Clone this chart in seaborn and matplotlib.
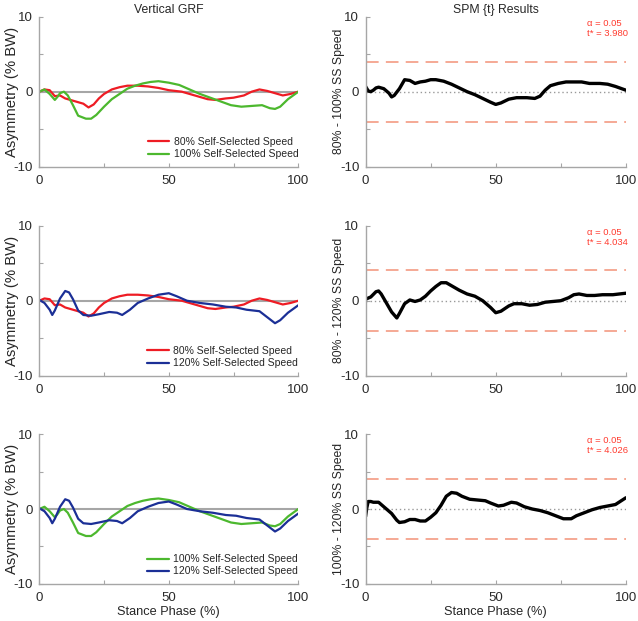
import numpy as np
import pandas as pd
import seaborn as sns
import matplotlib.pyplot as plt

# asymmetry curves (% BW)
x80 = [0, 2, 4, 6, 8, 10, 13, 15, 17, 19, 21, 23, 25, 28, 31, 34, 38, 42, 46, 50,
       55, 60, 65, 68, 72, 75, 79, 82, 85, 88, 91, 94, 97, 100]
y80 = [0.0, 0.3, 0.2, -0.6, -0.5, -0.9, -1.2, -1.4, -1.6, -2.1, -1.7, -0.9, -0.3, 0.3, 0.6, 0.8, 0.8, 0.7, 0.5, 0.2,
       0.0, -0.5, -1.0, -1.1, -0.9, -0.8, -0.5, 0.0, 0.3, 0.1, -0.2, -0.5, -0.3, 0.0]

x100 = [0, 2, 4, 6, 7, 8, 9.5, 11, 13, 15, 18, 20, 22, 25, 28, 31, 34, 37, 40, 43,
        46, 50, 54, 58, 62, 66, 70, 74, 78, 82, 86, 89, 91, 93, 96, 100]
y100 = [0.0, 0.3, -0.3, -1.1, -0.7, -0.2, 0.0, -0.5, -1.8, -3.2, -3.6, -3.6, -3.1, -2.0, -1.0, -0.3, 0.4, 0.8, 1.1, 1.3,
        1.4, 1.2, 0.9, 0.3, -0.3, -0.8, -1.3, -1.8, -2.0, -1.9, -1.8, -2.2, -2.3, -2.0, -1.0, 0.0]

x120 = [0, 2, 4, 5, 6, 8, 10, 11.5, 13, 15, 17, 20, 23, 27, 30, 32, 35, 38, 42, 46,
        50, 53, 57, 62, 67, 72, 76, 80, 85, 88, 91, 93, 96, 100]
y120 = [0.1, -0.3, -1.2, -1.9, -1.3, 0.3, 1.3, 1.1, 0.2, -1.3, -1.9, -2.0, -1.8, -1.5, -1.6, -1.9, -1.2, -0.3, 0.3, 0.8,
        1.0, 0.6, 0.0, -0.3, -0.5, -0.8, -0.9, -1.2, -1.4, -2.2, -3.0, -2.6, -1.6, -0.6]

# SPM {t} curves, right column
xa = [0, 1, 2, 3, 4, 5, 7, 9, 10, 11, 13, 15, 17, 19, 21, 23, 25, 27, 30, 33, 36, 39, 42, 45,
      48, 50, 52, 55, 58, 62, 65, 67, 69, 71, 74, 77, 80, 83, 86, 90, 93, 96, 100]
ta = [0.7, 0.1, 0.0, 0.2, 0.5, 0.6, 0.4, -0.2, -0.7, -0.5, 0.4, 1.6, 1.5, 1.1, 1.3, 1.4, 1.6, 1.6, 1.4, 1.0, 0.5, 0.0, -0.4, -0.9,
      -1.4, -1.7, -1.5, -1.0, -0.8, -0.8, -0.9, -0.6, 0.2, 0.8, 1.1, 1.3, 1.3, 1.3, 1.1, 1.1, 1.0, 0.7, 0.2]

xb = [0, 2, 4, 5, 6, 8, 10, 12, 13, 15, 17, 19, 21, 23, 25, 27, 29, 31, 33, 36, 39, 42, 45, 48,
      50, 52, 55, 57, 60, 63, 66, 69, 72, 75, 78, 80, 82, 85, 88, 91, 95, 100]
tb = [0.2, 0.5, 1.2, 1.3, 0.9, -0.3, -1.5, -2.3, -1.7, -0.4, 0.1, -0.1, 0.1, 0.6, 1.3, 1.9, 2.4, 2.4, 2.0, 1.4, 0.9, 0.6, 0.0, -0.9,
      -1.6, -1.4, -0.7, -0.4, -0.4, -0.6, -0.5, -0.2, -0.1, 0.0, 0.4, 0.8, 0.9, 0.7, 0.7, 0.8, 0.8, 1.0]

xc = [0, 0.5, 1, 2, 3, 5, 6, 8, 10, 12, 13, 15, 17, 19, 21, 23, 25, 27, 29, 31, 33, 35, 37, 40,
      43, 46, 48, 51, 53, 56, 58, 61, 64, 67, 70, 73, 76, 79, 81, 84, 87, 90, 93, 96, 100]
tc = [-1.0, 0.2, 1.0, 1.0, 0.9, 0.9, 0.6, 0.0, -0.6, -1.5, -1.8, -1.7, -1.4, -1.4, -1.6, -1.6, -1.1, -0.5, 0.5, 1.7, 2.2, 2.1, 1.7, 1.3,
      1.2, 1.1, 0.8, 0.4, 0.5, 0.9, 0.8, 0.3, 0.0, -0.2, -0.5, -0.9, -1.3, -1.3, -0.9, -0.5, -0.1, 0.2, 0.4, 0.6, 1.5]

tcrit = [3.980, 4.034, 4.026]
spm_labels = ['80% - 100% SS Speed', '80% - 120% SS Speed', '100% - 120% SS Speed']

RED = '#ee1c24'
GREEN = '#4cb82e'
BLUE = '#1b2f96'
GREY = '#a6a6a6'

series = {
    '80% Self-Selected Speed': (x80, y80, RED),
    '100% Self-Selected Speed': (x100, y100, GREEN),
    '120% Self-Selected Speed': (x120, y120, BLUE),
}
pairs = [('80% Self-Selected Speed', '100% Self-Selected Speed'),
         ('80% Self-Selected Speed', '120% Self-Selected Speed'),
         ('100% Self-Selected Speed', '120% Self-Selected Speed')]
spm = [(xa, ta), (xb, tb), (xc, tc)]

sns.set_style('white')
plt.rcParams['font.family'] = ['Liberation Sans', 'DejaVu Sans']
plt.rcParams['axes.edgecolor'] = GREY
plt.rcParams['axes.unicode_minus'] = False

fig = plt.figure(figsize=(6.38, 6.21), dpi=100)

bottoms = [0.7316, 0.395, 0.0596]
h = 0.2415


def style_axes(ax):
    ax.set_xlim(0, 100)
    ax.set_ylim(-10, 10)
    ax.set_xticks([0, 50, 100])
    ax.set_xticks([25, 75], minor=True)
    ax.set_yticks([-10, 0, 10])
    ax.set_yticks([-5, 5], minor=True)
    for s in ['top', 'right']:
        ax.spines[s].set_visible(False)
    for s in ['left', 'bottom']:
        ax.spines[s].set_color(GREY)
        ax.spines[s].set_linewidth(1.0)
    ax.tick_params(which='both', direction='in', length=3, color=GREY, width=0.8,
                   labelsize=9.5, labelcolor='#2a2a2a')
    ax.tick_params(axis='x', pad=6)
    ax.tick_params(axis='y', pad=4.5)
    ax.tick_params(which='both', bottom=True, left=True)


for i in range(3):
    # left column: asymmetry curves
    ax = fig.add_axes([0.0616, bottoms[i], 0.406, h])
    ax.axhline(0, color=GREY, lw=1.5, zorder=1)
    for name in pairs[i]:
        xs, ys, col = series[name]
        df = pd.DataFrame({'x': xs, 'y': ys})
        sns.lineplot(data=df, x='x', y='y', color=col, lw=1.6, ax=ax, label=name)
    style_axes(ax)
    ax.set_ylabel('Asymmetry (% BW)', fontsize=10.7)
    ax.yaxis.set_label_coords(-0.08, 0.5)
    ax.set_xlabel('Stance Phase (%)' if i == 2 else '', fontsize=9.2)
    ax.xaxis.set_label_coords(0.5, -0.15)
    ax.legend(loc='lower right', frameon=False, fontsize=7.5, handlelength=2.1,
              handletextpad=0.4, labelspacing=0.2, borderpad=0, borderaxespad=0,
              bbox_to_anchor=(1.0, 0.05))
    if i == 0:
        ax.set_title('Vertical GRF', fontsize=8.8, pad=2.5)

    # right column: SPM {t}
    ax2 = fig.add_axes([0.573, bottoms[i], 0.408, h])
    ax2.axhline(0, color='#999999', lw=1.0, ls=(0, (1, 2)), zorder=1)
    ax2.axhline(tcrit[i], color='#f5a28c', lw=1.3, ls=(0, (7, 4)), zorder=1)
    ax2.axhline(-tcrit[i], color='#f5a28c', lw=1.3, ls=(0, (7, 4)), zorder=1)
    xs, ts = spm[i]
    df = pd.DataFrame({'x': xs, 't': ts})
    sns.lineplot(data=df, x='x', y='t', color='black', lw=2.4, ax=ax2)
    style_axes(ax2)
    ax2.set_ylabel(spm_labels[i], fontsize=8.8)
    ax2.yaxis.set_label_coords(-0.08, 0.5)
    ax2.set_xlabel('Stance Phase (%)' if i == 2 else '', fontsize=9.2)
    ax2.xaxis.set_label_coords(0.5, -0.15)
    ax2.text(85, 9.1, '\u03b1 = 0.05', color='#ff3b2f', fontsize=6.8, va='center')
    ax2.text(85, 7.75, 't* = %.3f' % tcrit[i], color='#ff3b2f', fontsize=6.8, va='center')
    if i == 0:
        ax2.set_title('SPM {t} Results', fontsize=8.8, pad=2.5)

fig.savefig('out.png', dpi=100)
